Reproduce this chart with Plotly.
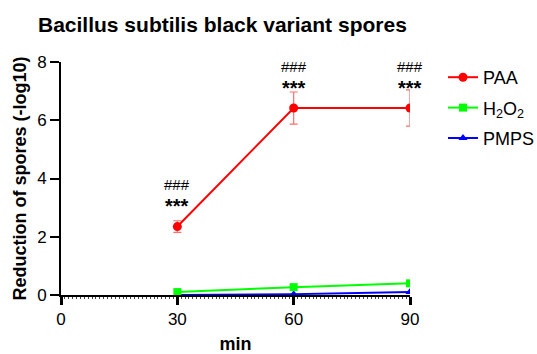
import plotly.graph_objects as go

minutes = [30, 60, 90]
paa = [2.35, 6.42, 6.42]
paa_err = [0.2, 0.55, 0.62]
h2o2 = [0.1, 0.27, 0.4]
pmps = [0.0, 0.03, 0.1]
x_ticks = [0, 30, 60, 90]
y_ticks = [0, 2, 4, 6, 8]
sig_hash = ["###", "###", "###"]
sig_star = ["***", "***", "***"]
hash_y = [3.78, 7.85, 7.85]
star_y = [3.05, 7.1, 7.1]

FONT = "Liberation Sans, Arial, sans-serif"

fig = go.Figure()
fig.add_trace(go.Scatter(
    x=minutes, y=pmps, name="PMPS", mode="lines+markers",
    line=dict(color="#0000ff", width=2),
    marker=dict(symbol="triangle-up", size=8, color="#0000ff"),
    legendrank=3, legendgroup="c"))
fig.add_trace(go.Scatter(
    x=minutes, y=h2o2, name="H<sub>2</sub>O<sub>2</sub>", mode="lines+markers",
    line=dict(color="#00ff00", width=2),
    marker=dict(symbol="square", size=8, color="#00ff00"),
    legendrank=2, legendgroup="b"))
fig.add_trace(go.Scatter(
    x=minutes, y=paa, name="PAA", mode="lines+markers",
    line=dict(color="#ff0000", width=2),
    marker=dict(symbol="circle", size=9, color="#ff0000"),
    error_y=dict(type="data", array=paa_err, visible=True,
                 color="rgba(255,60,60,0.75)", thickness=1.2, width=4),
    legendrank=1, legendgroup="a"))

for x, h, s, hy, sy in zip(minutes, sig_hash, sig_star, hash_y, star_y):
    fig.add_annotation(x=x, y=hy, text=h, showarrow=False,
                       font=dict(family=FONT, size=15, color="black"))
    fig.add_annotation(x=x, y=sy, text="<b>" + s + "</b>", showarrow=False,
                       font=dict(family=FONT, size=20, color="black"))

fig.update_layout(
    width=537, height=354,
    margin=dict(l=61, r=127, t=62, b=59, autoexpand=False),
    paper_bgcolor="white", plot_bgcolor="white",
    font=dict(family=FONT, color="black"),
    title=dict(text="<b>Bacillus subtilis black variant spores</b>",
               x=38 / 537, xanchor="left", y=0.931, yanchor="middle",
               font=dict(size=21, color="black")),
    showlegend=True,
    legend=dict(xref="container", yref="container", x=443 / 537, y=1 - 59 / 354,
                xanchor="left", yanchor="top",
                font=dict(size=18, color="black"), tracegroupgap=4,
                bgcolor="rgba(0,0,0,0)", itemwidth=30),
    xaxis=dict(range=[0, 90], tickvals=x_ticks, showgrid=False, zeroline=False,
               showline=True, linecolor="black", linewidth=2,
               ticks="outside", ticklen=8, tickwidth=3, tickcolor="black",
               tickfont=dict(size=17, family=FONT, color="black"),
               minor=dict(dtick=1, ticks="outside", ticklen=2, tickwidth=1,
                          tickcolor="#444"),
               title=dict(text="<b>min</b>", font=dict(size=18), standoff=12),
               automargin=False, fixedrange=True,
               tickprefix="<b>", ticksuffix="</b>"),
    yaxis=dict(range=[0, 8], tickvals=y_ticks, showgrid=False, zeroline=False,
               showline=True, linecolor="black", linewidth=2,
               ticks="outside", ticklen=9, tickwidth=2, tickcolor="black",
               tickfont=dict(size=17, family=FONT, color="black"),
               tickprefix="<b>", ticksuffix="</b>",
               automargin=False,
               title=dict(text="<b>Reduction of spores (-log10)</b>",
                          font=dict(size=18), standoff=6)),
)

fig.write_html("out.html", config={"displayModeBar": False},
               post_script="document.body.style.margin='0';document.body.style.padding='0';")
